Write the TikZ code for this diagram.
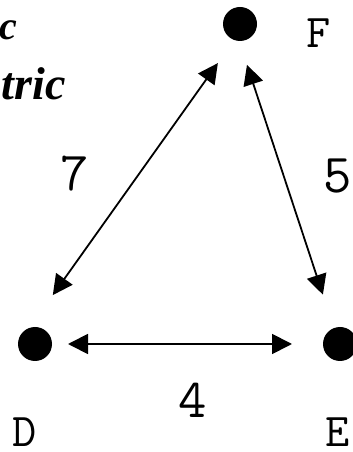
\documentclass[tikz,border=0pt]{standalone}
\usepackage{fontspec}
\newfontfamily\titlefont{Liberation Serif}
\usetikzlibrary{arrows.meta}

\begin{document}
\begin{tikzpicture}[x=1pt,y=1pt,
	dot/.style={circle,fill=black,inner sep=0pt,minimum size=34pt},
	twoway/.style={line width=1.8pt,{Triangle[length=20pt,width=20pt]}-{Triangle[length=20pt,width=20pt]}},
	letter/.style={inner sep=0pt,font=\ttfamily\fontsize{47}{47}\selectfont},
	weight/.style={inner sep=0pt,font=\ttfamily\fontsize{55}{55}\selectfont}]
	\useasboundingbox (0,0) rectangle (353,452);
	% heading, cut off at the left edge
	\node[anchor=base east,inner sep=0pt,font=\titlefont\bfseries\itshape\fontsize{40}{40}\selectfont] (headA) at (17,412) {c};
	\node[anchor=base east,inner sep=0pt,font=\titlefont\bfseries\itshape\fontsize{46}{46}\selectfont] (headB) at (66,352) {tric};
	% vertices
	\node[dot] (D) at (35,108) {};
	\node[dot] (E) at (340,108) {};
	\node[dot] (F) at (240,428) {};
	\node[letter] (labD) at (24.5,19.5) {D};
	\node[letter] (labE) at (337.5,19.5) {E};
	\node[letter] (labF) at (318.5,419) {F};
	% weights
	\node[weight] (w4) at (192.5,52) {4};
	\node[weight] (w5) at (337.5,275.5) {5};
	\node[weight] (w7) at (75,278.5) {7};
	% edges
	\draw[twoway,shorten <=33pt,shorten >=48pt] (D.center) -- (E.center);
	\draw[twoway,shorten <=60pt,shorten >=48pt] ([xshift=-17pt]D.center) -- ([xshift=5.7pt]F.center);
	\draw[twoway,shorten <=43pt,shorten >=52pt] ([xshift=-6.5pt]F.center) -- ([xshift=-0.8pt]E.center);
\end{tikzpicture}
\end{document}
